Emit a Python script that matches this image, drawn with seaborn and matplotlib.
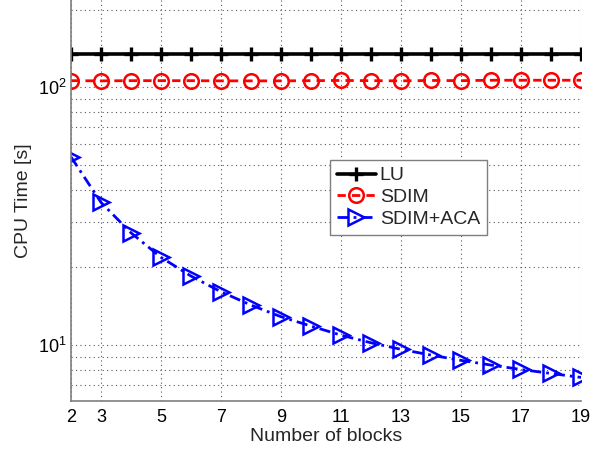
import numpy as np
import pandas as pd
import matplotlib
matplotlib.use("Agg")
import matplotlib.pyplot as plt
import seaborn as sns
from matplotlib.ticker import FixedLocator, LogLocator, NullFormatter, LogFormatterMathtext

blocks = [2, 3, 4, 5, 6, 7, 8, 9, 10, 11, 12, 13, 14, 15, 16, 17, 18, 19]
lu_time = [135] * 18
sdim_time = [106, 105.8, 106, 106, 106, 105.8, 105.8, 105.8, 106, 106.2, 106, 105.8, 106.2, 106, 106.4, 106.4, 106.4, 106.4]
sdim_aca_time = [53.6, 35.7, 27.2, 21.85, 18.48, 16.06, 14.26, 12.85, 11.82, 10.9, 10.18, 9.6, 9.12, 8.7, 8.34, 8.02, 7.74, 7.47]
x_ticks = [2, 3, 5, 7, 9, 11, 13, 15, 17, 19]
series_names = ["LU", "SDIM", "SDIM+ACA"]

sns.set_style("white")
plt.rcParams['font.family'] = ['Liberation Sans', 'DejaVu Sans']
plt.rcParams['mathtext.fontset'] = 'custom'
plt.rcParams['mathtext.rm'] = 'Liberation Sans'

fig = plt.figure(figsize=(6.1, 4.51), dpi=100)
ax = fig.add_axes([71 / 610, 50 / 451, 510 / 610, 401 / 451])

sns.lineplot(x=blocks, y=lu_time, ax=ax, color='black', linestyle='-', linewidth=2.6,
             marker='+', markersize=10.5, markeredgewidth=2.4, markeredgecolor='black',
             label=series_names[0])
sns.lineplot(x=blocks, y=sdim_time, ax=ax, color='red', linestyle=(0, (3, 2.2)), linewidth=2,
             marker='o', markersize=10.5, markerfacecolor='none', markeredgecolor='red',
             markeredgewidth=1.8, label=series_names[1])
sns.lineplot(x=blocks, y=sdim_aca_time, ax=ax, color='blue', linestyle=(0, (4, 1.8, 1, 1.8)), linewidth=2,
             marker='>', markersize=11, markerfacecolor='none', markeredgecolor='blue',
             markeredgewidth=1.8, label=series_names[2])

ax.set_yscale('log')
ax.set_xlim(2, 19)
ax.set_ylim(6.05, 218)
ax.xaxis.set_major_locator(FixedLocator(x_ticks))
ax.set_xticklabels([str(t) for t in x_ticks])
ax.yaxis.set_major_locator(LogLocator(base=10, numticks=10))
ax.yaxis.set_major_formatter(LogFormatterMathtext())
ax.yaxis.set_minor_locator(LogLocator(base=10, subs=np.arange(2, 10), numticks=20))
ax.yaxis.set_minor_formatter(NullFormatter())

ax.grid(True, which='major', axis='both', linestyle=(0, (1, 3)), color='#555555', linewidth=0.8)
ax.grid(True, which='minor', axis='y', linestyle=(0, (1, 3)), color='#555555', linewidth=0.8)
ax.set_axisbelow(True)

for s in ['top', 'right']:
    ax.spines[s].set_visible(False)
for s in ['left', 'bottom']:
    ax.spines[s].set_color('#7f7f7f')
    ax.spines[s].set_linewidth(1.2)

ax.tick_params(axis='both', which='both', direction='in', colors='#7f7f7f', labelcolor='black',
               labelsize=13)
ax.tick_params(axis='both', which='major', length=5)
ax.tick_params(axis='y', which='minor', length=3)
ax.tick_params(axis='x', pad=6)

ax.set_xlabel('Number of blocks', fontsize=14, labelpad=1)
ax.set_ylabel('CPU Time [s]', fontsize=14, labelpad=4)

leg = ax.legend(loc='upper left', bbox_to_anchor=(0.508, 0.601), borderaxespad=0, fontsize=14,
                handlelength=2.0, handletextpad=0.2, labelspacing=0.22, borderpad=0.35,
                numpoints=1, fancybox=False, framealpha=1, edgecolor='#7f7f7f')
leg.get_frame().set_linewidth(1.0)

fig.savefig('out.png', dpi=100)
